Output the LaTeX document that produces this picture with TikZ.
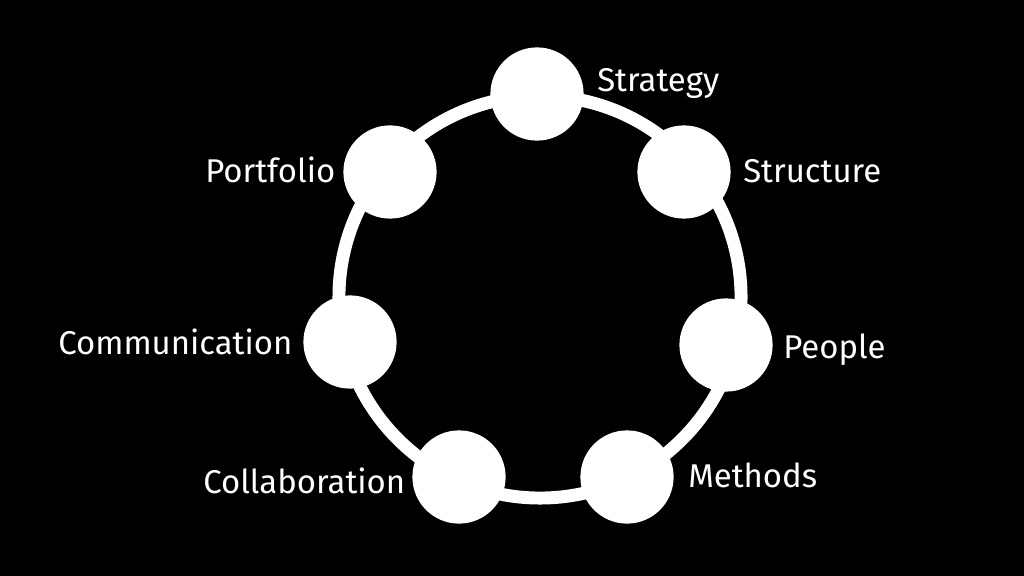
\documentclass[tikz,border=0pt]{standalone}
\usepackage{fontspec}
\setmainfont{Fira Sans}
\usepackage{tikz}
\usetikzlibrary{positioning}

\begin{document}
\begin{tikzpicture}[x=0.025cm, y=-0.025cm]
    % Define colors
    \definecolor{ringcolor}{RGB}{255, 255, 255}
    \definecolor{bgcolor}{RGB}{0, 0, 0}
    \tikzset{
        hub/.style={circle, fill=ringcolor, minimum size=2.33cm, inner sep=0pt},
        tag/.style={anchor=base west, inner sep=0pt, text=ringcolor, font=\fontsize{23.4}{28}\selectfont}
    }

    % Background
    \fill[bgcolor] (0, 0) rectangle (1024, 576);
    \useasboundingbox (0, 0) rectangle (1024, 576);

    % Ring
    \draw[ringcolor, line width=9.2pt] (540, 297) circle [radius=5.025cm];

    % Hubs on the ring
    \foreach \name/\x/\y in {strategy/537/94, structure/684/172, people/726/345,
        methods/627/477, collaboration/459/477, communication/350/342, portfolio/390/172} {
        \node[hub] (\name) at (\x, \y) {};
    }

    % Labels
    \node[tag] (strategy-label) at (597, 92) {Strategy};
    \node[tag] (structure-label) at (743, 183) {Structure};
    \node[tag] (people-label) at (783, 358) {People};
    \node[tag] (methods-label) at (688, 487) {Methods};
    \node[tag] (collaboration-label) at (203, 493) {Collaboration};
    \node[tag] (communication-label) at (58, 355) {Communication};
    \node[tag] (portfolio-label) at (205, 183) {Portfolio};
\end{tikzpicture}
\end{document}
